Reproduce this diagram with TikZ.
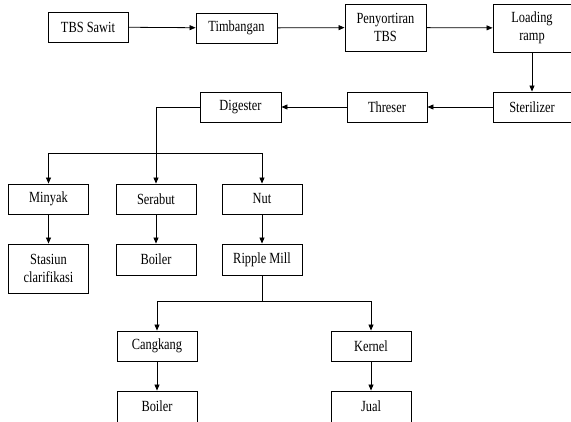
\documentclass[tikz,border=0pt]{standalone}
\usepackage{fontspec}
\setmainfont{Liberation Serif}[FakeStretch=0.8]
\usepackage{tikz}
\usetikzlibrary{arrows.meta,positioning}
\tikzstyle{box} = [draw, line width=0.9pt, minimum width=80pt, minimum height=30pt, inner sep=2pt, align=center, font=\fontsize{15.5}{18}\selectfont]
\tikzstyle{arrow} = [line width=0.8pt, -{Triangle[length=6pt,width=5pt]}]
\tikzstyle{line} = [line width=0.8pt]

\begin{document}
\begin{tikzpicture}[x=1pt, y=1pt]
\useasboundingbox (0,0) rectangle (571,-422);

% Row 1
\node[box] (sawit) at (88,-27) {TBS Sawit};
\node[box, minimum width=81pt] (timbangan) at (236.5,-28) {Timbangan};
\node[box, minimum width=81pt, minimum height=47pt] (sortir) at (385.5,-27.5) {Penyortiran\\TBS};
\node[box, minimum width=78pt, minimum height=48pt] (ramp) at (532,-28) {Loading\\ramp};

% Row 2
\node[box, minimum width=78pt] (sterilizer) at (532,-107) {Sterilizer};
\node[box] (threser) at (387,-107) {Threser};
\node[box, minimum width=81pt] (digester) at (240.5,-107) {Digester};

% Hasil digester
\node[box] (minyak) at (48.5,-199) {Minyak};
\node[box] (serabut) at (156,-199) {Serabut};
\node[box] (nut) at (262,-199) {Nut};

\node[box, minimum height=49pt] (stasiun) at (48.5,-268.5) {Stasiun\\clarifikasi};
\node[box, minimum height=31pt] (boiler) at (156,-259.5) {Boiler};
\node[box, minimum height=31pt] (ripple) at (262,-259.5) {Ripple Mill};

% Hasil ripple mill
\node[box] (cangkang) at (157,-346) {Cangkang};
\node[box] (kernel) at (371,-346) {Kernel};
\node[box, minimum height=31pt] (boiler2) at (157,-406.5) {Boiler};
\node[box, minimum height=31pt] (jual) at (371,-406.5) {Jual};

% Arrows
\draw[arrow] (sawit) -- (timbangan);
\draw[arrow] (timbangan) -- (sortir);
\draw[arrow] (sortir) -- (ramp);
\draw[arrow] (ramp) -- (sterilizer);
\draw[arrow] (sterilizer) -- (threser);
\draw[arrow] (threser) -- (digester);

% Digester branches
\coordinate (bus1) at (156,-153);
\draw[arrow] (digester.west) -| (serabut.north);
\draw[arrow] (bus1) -| (minyak.north);
\draw[arrow] (bus1) -| (nut.north);
\draw[arrow] (minyak) -- (stasiun);
\draw[arrow] (serabut) -- (boiler);
\draw[arrow] (nut) -- (ripple);

% Ripple mill branches
\coordinate (bus2) at (262,-301);
\draw[line] (ripple.south) -- (bus2);
\draw[arrow] (bus2) -| (cangkang.north);
\draw[arrow] (bus2) -| (kernel.north);
\draw[arrow] (cangkang) -- (boiler2);
\draw[arrow] (kernel) -- (jual);
\end{tikzpicture}
\end{document}
